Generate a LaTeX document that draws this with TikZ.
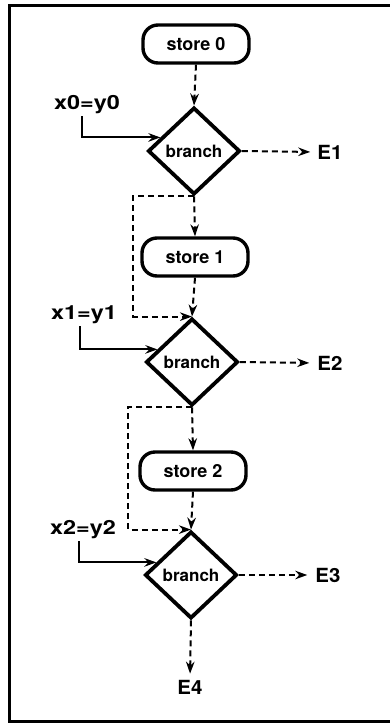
\documentclass[tikz,border=0pt]{standalone}
\usepackage{fontspec}
\setmainfont{TeX Gyre Heros}
\usetikzlibrary{shapes.geometric,arrows.meta}
\tikzset{
  storebox/.style={draw, line width=3.4pt, rounded corners=15pt, minimum width=106pt, minimum height=38pt, inner sep=0pt, font=\fontsize{18}{20}\selectfont\bfseries},
  branchbox/.style={draw, diamond, line width=3.8pt, minimum width=92pt, minimum height=87pt, inner sep=0pt, font=\fontsize{17}{20}\selectfont\bfseries},
  outlabel/.style={inner sep=2pt, font=\fontsize{19.5}{22}\selectfont\bfseries},
  dasharrow/.style={line width=2pt, dash pattern=on 6pt off 4pt, -{Stealth[length=12pt,width=8.5pt]}},
  solidarrow/.style={line width=2pt, -{Stealth[length=12pt,width=8.5pt]}},
  frame/.style={line width=3pt}
}
\begin{document}
\begin{tikzpicture}[x=1pt,y=-1pt]
\useasboundingbox (0,0) rectangle (390,724);
\draw[frame] (390,5) -- (9,5) -- (9,721) -- (390,721);

\node[storebox] (s0) at (196,44) {store 0};
\node[branchbox] (d0) at (194,151) {branch};
\node[storebox] (s1) at (195,257) {store 1};
\node[branchbox] (d1) at (192,362) {branch};
\node[storebox] (s2) at (193,471) {store 2};
\node[branchbox] (d2) at (191,575) {branch};

\node[outlabel] (l0) at (87,105) {\scalebox{1.2}[1]{x0=y0}};
\node[outlabel] (l1) at (84,315) {\scalebox{1.2}[1]{x1=y1}};
\node[outlabel] (l2) at (83,530) {\scalebox{1.2}[1]{x2=y2}};

\node[outlabel] (e1) at (330,152) {\scalebox{1.05}[1]{E1}};
\node[outlabel] (e2) at (330,363) {\scalebox{1.05}[1]{E2}};
\node[outlabel] (e3) at (328,575) {\scalebox{1.05}[1]{E3}};
\node[outlabel] (e4) at (190,687) {\scalebox{1.05}[1]{E4}};

% main flow
\draw[dasharrow] (s0.south) -- (d0.north);
\draw[dasharrow] (d0.south) -- (s1.north);
\draw[dasharrow] (s1.south) -- (d1.north);
\draw[dasharrow] (d1.south) -- (s2.north);
\draw[dasharrow] (s2.south) -- (d2.north);
\draw[dasharrow, shorten >=4pt] (d2.south) -- (e4.north);

% exits
\draw[dasharrow, shorten >=5pt] (d0.east) -- (e1.west);
\draw[dasharrow, shorten >=6pt] (d1.east) -- (e2.west);
\draw[dasharrow, shorten >=6pt] (d2.east) -- (e3.west);

% bypass loops
\draw[dasharrow] (d0.south) -- ++(-61,0) |- (d1.north);
\draw[dasharrow] (d1.south) -- ++(-64,0) |- (d2.north);

% conditions
\draw[solidarrow] ([xshift=-5pt]l0.south) |- (d0.158);
\draw[solidarrow] ([xshift=-4pt]l1.south) |- (d1.160);
\draw[solidarrow] ([xshift=-4pt]l2.south) |- (d2.160);
\end{tikzpicture}
\end{document}
